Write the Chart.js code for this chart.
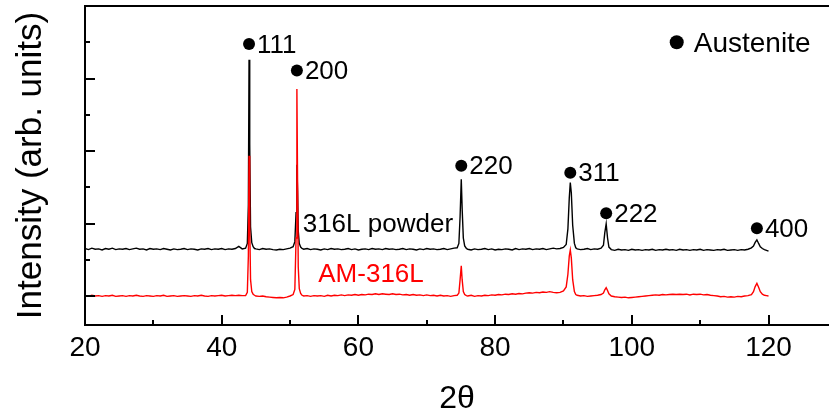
<!DOCTYPE html>
<html>
<head>
<meta charset="utf-8">
<title>XRD - 316L powder vs AM-316L</title>
<script src="https://cdn.jsdelivr.net/npm/chart.js@4.4.1/dist/chart.umd.min.js"></script>
<style>
  html, body { margin: 0; padding: 0; background: #fff; }
  #xrdChart { display: block; }
</style>
</head>
<body>
<canvas id="xrdChart" width="829" height="418"></canvas>
<script>
// 2θ positions (deg), shared by both patterns
const twoTheta = [
  20, 20.5, 21, 21.5, 22, 22.5, 23, 23.5, 24, 24.5,
  25, 25.5, 26, 26.5, 27, 27.5, 28, 28.5, 29, 29.5,
  30, 30.5, 31, 31.5, 32, 32.5, 33, 33.5, 34, 34.5,
  35, 35.5, 36, 36.5, 37, 37.5, 38, 38.5, 39, 39.5,
  40, 40.5, 41, 41.5, 42, 42.5, 43,
  43.5, 43.75, 43.9, 44.0, 44.1, 44.22, 44.4, 44.6, 44.8,
  45, 45.5, 46, 46.5, 47, 47.5, 48, 48.5, 49, 49.5, 50,
  50.45, 50.7, 50.88, 51.0, 51.1, 51.2, 51.35, 51.55, 51.75,
  52, 52.5, 53, 53.5, 54, 54.5, 55, 55.5, 56, 56.5,
  57, 57.5, 58, 58.5, 59, 59.5, 60, 60.5, 61, 61.5,
  62, 62.5, 63, 63.5, 64, 64.5, 65, 65.5, 66, 66.5,
  67, 67.5, 68, 68.5, 69, 69.5, 70, 70.5, 71, 71.5,
  72, 72.5, 73, 73.5, 74,
  74.45, 74.7, 74.88, 75.05, 75.18, 75.35, 75.55, 75.8,
  76, 76.5, 77, 77.5, 78, 78.5, 79, 79.5, 80, 80.5,
  81, 81.5, 82, 82.5, 83, 83.5, 84, 84.5, 85, 85.5,
  86, 86.5, 87, 87.5, 88, 88.5, 89, 89.5, 90,
  90.4, 90.65, 90.85, 91.0, 91.15, 91.35, 91.6, 91.8,
  92, 92.5, 93, 93.5, 94, 94.5, 95, 95.5,
  95.85, 96.05, 96.25, 96.45, 96.65,
  97, 97.5, 98, 98.5, 99, 99.5, 100, 100.5, 101, 101.5,
  102, 102.5, 103, 103.5, 104, 104.5, 105, 105.5, 106, 106.5,
  107, 107.5, 108, 108.5, 109, 109.5, 110, 110.5, 111, 111.5,
  112, 112.5, 113, 113.5, 114, 114.5, 115, 115.5, 116, 116.5,
  117, 117.5,
  117.8, 118.05, 118.3, 118.55, 118.8, 119.1, 119.4, 119.7, 120
];

// 316L powder (black), offset trace
const powderIntensity = [
  1.31, 1.28, 1.32, 1.29, 1.30, 1.27, 1.31, 1.29, 1.32, 1.28,
  1.30, 1.29, 1.31, 1.28, 1.30, 1.32, 1.29, 1.30, 1.27, 1.31,
  1.29, 1.30, 1.28, 1.31, 1.29, 1.27, 1.30, 1.28, 1.29, 1.31,
  1.28, 1.30, 1.29, 1.27, 1.30, 1.29, 1.31, 1.28, 1.30, 1.29,
  1.31, 1.28, 1.30, 1.29, 1.31, 1.37, 1.30,
  1.32, 1.45, 2.5, 6.52, 4.2, 1.9, 1.47, 1.36, 1.31,
  1.30, 1.28, 1.31, 1.29, 1.30, 1.28, 1.27, 1.29, 1.28, 1.30, 1.32,
  1.36, 1.50, 2.3, 3.62, 2.9, 1.8, 1.45, 1.35, 1.31,
  1.29, 1.31, 1.28, 1.30, 1.29, 1.27, 1.30, 1.28, 1.31, 1.29,
  1.30, 1.28, 1.29, 1.31, 1.28, 1.30, 1.27, 1.29, 1.30, 1.28,
  1.31, 1.29, 1.30, 1.28, 1.31, 1.29, 1.30, 1.28, 1.29, 1.31,
  1.28, 1.30, 1.29, 1.27, 1.30, 1.28, 1.31, 1.29, 1.30, 1.28,
  1.29, 1.31, 1.28, 1.30, 1.32,
  1.33, 1.45, 2.2, 3.22, 2.4, 1.6, 1.38, 1.31,
  1.29, 1.27, 1.30, 1.28, 1.29, 1.31, 1.28, 1.30, 1.27, 1.29,
  1.28, 1.30, 1.29, 1.27, 1.31, 1.28, 1.30, 1.29, 1.31, 1.28,
  1.30, 1.29, 1.31, 1.28, 1.30, 1.32, 1.30, 1.31, 1.34,
  1.42, 1.85, 2.7, 3.13, 2.85, 1.95, 1.45, 1.33,
  1.30, 1.28, 1.29, 1.31, 1.28, 1.30, 1.29, 1.32,
  1.40, 1.75, 1.99, 1.6, 1.35,
  1.28, 1.26, 1.29, 1.27, 1.28, 1.26, 1.29, 1.27, 1.28, 1.26,
  1.28, 1.27, 1.29, 1.26, 1.28, 1.27, 1.29, 1.27, 1.28, 1.26,
  1.29, 1.27, 1.28, 1.26, 1.28, 1.27, 1.29, 1.26, 1.28, 1.27,
  1.26, 1.28, 1.27, 1.29, 1.26, 1.27, 1.28, 1.26, 1.28, 1.27,
  1.29, 1.33,
  1.38, 1.48, 1.55, 1.45, 1.36, 1.31, 1.28, 1.26, 1.24
];

// AM-316L (red)
const amIntensity = [
  0.01, -0.01, 0.02, 0.00, 0.01, -0.01, 0.01, 0.00, 0.02, -0.01,
  0.00, 0.01, -0.01, 0.01, 0.00, 0.02, 0.00, -0.01, 0.01, 0.00,
  -0.01, 0.01, 0.00, 0.02, -0.01, 0.00, 0.01, -0.01, 0.00, 0.01,
  0.00, -0.01, 0.01, 0.00, 0.02, 0.00, -0.01, 0.01, 0.00, 0.01,
  0.02, 0.00, 0.01, 0.02, 0.01, 0.02, 0.01,
  0.01, 0.10, 1.1, 3.87, 2.0, 0.45, 0.12, 0.05, 0.02,
  0.00, -0.01, 0.00, -0.02, -0.03, -0.04, -0.05, -0.04, -0.05, -0.03, 0.00,
  0.04, 0.18, 1.6, 5.71, 3.2, 0.8, 0.2, 0.07, 0.02,
  0.00, 0.01, -0.01, 0.01, 0.00, 0.01, -0.01, 0.02, 0.00, 0.02,
  0.01, 0.03, 0.01, 0.03, 0.02, 0.04, 0.02, 0.04, 0.03, 0.05,
  0.04, 0.06, 0.04, 0.06, 0.05, 0.04, 0.06, 0.04, 0.05, 0.03,
  0.04, 0.02, 0.04, 0.02, 0.03, 0.01, 0.03, 0.01, 0.02, 0.00,
  0.02, 0.00, 0.01, -0.01, 0.01,
  0.02, 0.08, 0.45, 0.83, 0.45, 0.12, 0.04, 0.01,
  0.00, 0.02, -0.01, 0.01, 0.00, 0.02, 0.01, 0.03, 0.02, 0.04,
  0.03, 0.05, 0.04, 0.06, 0.05, 0.07, 0.06, 0.08, 0.09, 0.08,
  0.10, 0.09, 0.11, 0.10, 0.12, 0.10, 0.09, 0.10, 0.14,
  0.25, 0.6, 1.1, 1.27, 1.05, 0.45, 0.12, 0.04,
  0.02, 0.00, 0.01, -0.01, 0.00, 0.01, 0.02, 0.04,
  0.08, 0.17, 0.23, 0.15, 0.06,
  0.00, -0.02, -0.03, -0.04, -0.03, -0.05, -0.04, -0.03, -0.02, -0.01,
  0.00, 0.01, 0.02, 0.03, 0.02, 0.04, 0.03, 0.04, 0.05, 0.04,
  0.05, 0.04, 0.05, 0.03, 0.05, 0.04, 0.05, 0.03, 0.04, 0.02,
  0.01, 0.00, -0.02, -0.01, -0.03, -0.02, -0.03, -0.01, -0.02, 0.00,
  0.01, 0.04,
  0.12, 0.26, 0.35, 0.24, 0.12, 0.05, 0.02, 0.01, 0.00
];

const xMajorTicks = [20, 40, 60, 80, 100, 120];
const xMinorTicks = [30, 50, 70, 90, 110];
const yMajorTicks = [0, 2, 4, 6];
const yMinorTicks = [1, 3, 5, 7];

// Austenite reflections: label, 2θ, marker height
const peakLabels = ['111', '200', '220', '311', '222', '400'];
const peakMarkX = [44.0, 51.0, 75.05, 91.0, 96.25, 118.3];
const peakMarkY = [6.95, 6.22, 3.59, 3.40, 2.28, 1.87];

const FONT = '"Liberation Sans", Arial, Helvetica, sans-serif';

function toPoints(ys) {
    return twoTheta.map((t, i) => ({ x: t, y: ys[i] }));
}

// draws the frame top, inward ticks, peak markers and text labels
const xrdDecor = {
    id: 'xrdDecor',
    afterDraw(chart) {
        const { ctx, chartArea } = chart;
        const x = chart.scales.x;
        const y = chart.scales.y;
        ctx.save();
        ctx.strokeStyle = '#000';
        ctx.lineWidth = 2;

        // top frame line
        ctx.beginPath();
        ctx.moveTo(chartArea.left - 1, chartArea.top);
        ctx.lineTo(chartArea.right, chartArea.top);
        ctx.stroke();

        // x ticks pointing up
        ctx.beginPath();
        xMajorTicks.forEach(v => {
            const px = Math.round(x.getPixelForValue(v));
            ctx.moveTo(px, chartArea.bottom);
            ctx.lineTo(px, chartArea.bottom - 10);
        });
        xMinorTicks.forEach(v => {
            const px = Math.round(x.getPixelForValue(v));
            ctx.moveTo(px, chartArea.bottom);
            ctx.lineTo(px, chartArea.bottom - 5);
        });
        // y ticks pointing right
        yMajorTicks.forEach(v => {
            const py = Math.round(y.getPixelForValue(v));
            ctx.moveTo(chartArea.left, py);
            ctx.lineTo(chartArea.left + 10, py);
        });
        yMinorTicks.forEach(v => {
            const py = Math.round(y.getPixelForValue(v));
            ctx.moveTo(chartArea.left, py);
            ctx.lineTo(chartArea.left + 5, py);
        });
        ctx.stroke();

        // peak markers
        ctx.fillStyle = '#000';
        ctx.font = '26px ' + FONT;
        ctx.textBaseline = 'alphabetic';
        ctx.textAlign = 'left';
        peakLabels.forEach((lbl, i) => {
            const px = x.getPixelForValue(peakMarkX[i]);
            const py = y.getPixelForValue(peakMarkY[i]);
            ctx.beginPath();
            ctx.arc(px, py, 6, 0, Math.PI * 2);
            ctx.fill();
            ctx.fillText(lbl, px + 8, py + 8.5);
        });

        // legend-like "● Austenite"
        const ax = x.getPixelForValue(106.57);
        const ay = y.getPixelForValue(7.0);
        ctx.beginPath();
        ctx.arc(ax, ay, 7, 0, Math.PI * 2);
        ctx.fill();
        ctx.font = '28px ' + FONT;
        ctx.fillText('Austenite', ax + 17, ay + 9.5);

        // series names
        ctx.font = '26px ' + FONT;
        ctx.fillStyle = '#000';
        ctx.fillText('316L powder', x.getPixelForValue(51.85), y.getPixelForValue(1.77));
        ctx.fillStyle = '#ff0000';
        ctx.fillText('AM-316L', x.getPixelForValue(54.13), y.getPixelForValue(0.39));

        ctx.restore();
    }
};

const xrdChart = new Chart(document.getElementById('xrdChart'), {
    type: 'line',
    data: {
        datasets: [
            {
                label: 'AM-316L',
                data: toPoints(amIntensity),
                borderColor: '#ff0000',
                borderWidth: 1.4,
                pointRadius: 0,
                fill: false,
                tension: 0
            },
            {
                label: '316L powder',
                data: toPoints(powderIntensity),
                borderColor: '#000000',
                borderWidth: 1.4,
                pointRadius: 0,
                fill: false,
                tension: 0
            }
        ]
    },
    options: {
        responsive: false,
        animation: false,
        devicePixelRatio: 1,
        layout: { padding: { top: 6, right: 0, left: 0, bottom: 0 } },
        plugins: {
            legend: { display: false },
            tooltip: { enabled: false }
        },
        scales: {
            x: {
                type: 'linear',
                min: 20,
                max: 128.85,
                grid: { display: false, drawTicks: false },
                border: { display: true, color: '#000', width: 2 },
                ticks: {
                    stepSize: 20,
                    includeBounds: false,
                    maxRotation: 0,
                    padding: 6,
                    color: '#000',
                    font: { family: FONT, size: 28 }
                },
                title: {
                    display: true,
                    text: '2θ',
                    color: '#000',
                    font: { family: FONT, size: 32, lineHeight: 1 },
                    padding: { top: 0, bottom: 3 }
                },
                afterFit(scale) { scale.height = 93; }
            },
            y: {
                min: -0.8,
                max: 8,
                grid: { display: false, drawTicks: false },
                border: { display: true, color: '#000', width: 2 },
                ticks: { display: false },
                title: {
                    display: true,
                    text: 'Intensity (arb. units)',
                    color: '#000',
                    font: { family: FONT, size: 35, lineHeight: 1 },
                    padding: { top: 14, bottom: 0 }
                },
                afterFit(scale) { scale.width = 85; }
            }
        }
    },
    plugins: [xrdDecor]
});
</script>
</body>
</html>
